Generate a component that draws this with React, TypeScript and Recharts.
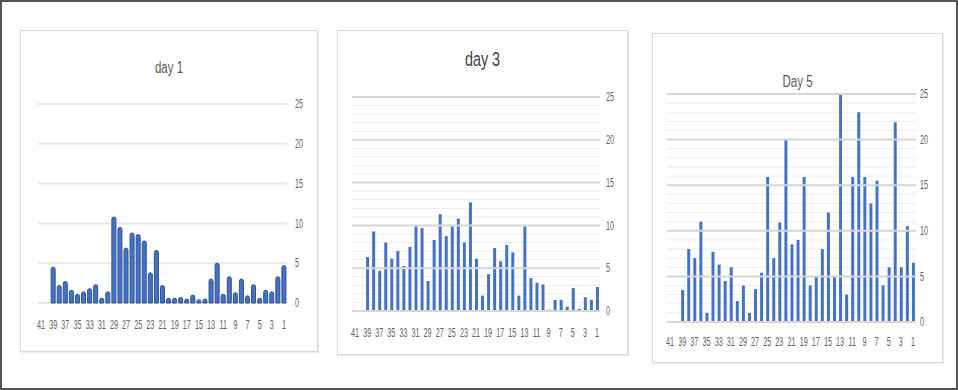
import React from 'react';
import { BarChart, Bar, XAxis, YAxis, CartesianGrid, ReferenceLine } from 'recharts';

const categories: string[] = [
  '41','40','39','38','37','36','35','34','33','32','31','30','29','28','27','26','25','24','23','22','21',
  '20','19','18','17','16','15','14','13','12','11','10','9','8','7','6','5','4','3','2','1',
];

const day1Values: (number | null)[] = [
  null, null, 4.5, 2.2, 2.7, 1.6, 1.1, 1.4, 1.8, 2.3, 0.6, 1.4, 10.8, 9.5, 6.9, 8.8, 8.6, 7.8, 3.8, 6.6, 2.2,
  0.6, 0.6, 0.7, 0.5, 1.0, 0.4, 0.5, 3.0, 5.0, 1.1, 3.3, 1.3, 3.0, 0.9, 2.3, 0.6, 1.6, 1.4, 3.3, 4.7,
];

const day3Values: (number | null)[] = [
  null, null, 6.3, 9.3, 4.7, 8.0, 6.1, 7.0, 5.25, 7.5, 9.9, 9.7, 3.5, 8.3, 11.3, 8.75, 9.9, 10.8, 8.0, 12.7, 6.1,
  1.8, 4.3, 7.35, 5.8, 7.7, 6.85, 1.8, 9.9, 3.85, 3.3, 3.1, 0.15, 1.3, 1.3, 0.5, 2.7, 0.25, 1.6, 1.3, 2.8,
];

const day5Values: (number | null)[] = [
  null, null, 3.5, 8.0, 7.0, 11.0, 1.0, 7.7, 6.3, 4.5, 6.0, 2.3, 4.0, 1.0, 3.6, 5.4, 15.9, 7.0, 10.9, 20.0, 8.5,
  9.0, 15.9, 4.0, 5.0, 8.0, 12.0, 5.0, 25.0, 3.0, 15.9, 23.0, 15.9, 13.0, 15.5, 4.0, 6.0, 21.9, 6.0, 10.5, 6.5,
];

const majorTicks: number[] = [0, 5, 10, 15, 20, 25];
const minorTicks: number[] = [
  0, 1, 2, 3, 4, 5, 6, 7, 8, 9, 10, 11, 12, 13, 14, 15, 16, 17, 18, 19, 20, 21, 22, 23, 24, 25,
];

const tickFont = "'Liberation Sans', Arial, sans-serif";

function XTick(props: any) {
  const { x, y, payload } = props;
  return (
    <g transform={`translate(${x},${y}) scale(0.6,1)`} opacity={0.99}>
      <text x={0} y={0} textAnchor="middle" dy="0.71em" fill="#606060" fontSize={12} fontFamily={tickFont}>
        {payload.value}
      </text>
    </g>
  );
}

function YTick(props: any) {
  const { x, y, payload } = props;
  const v = Number(payload.value);
  if (v % 5 !== 0) return null;
  return (
    <g transform={`translate(${x},${y}) scale(0.6,1)`} opacity={0.99}>
      <text x={0} y={0} textAnchor="start" dy="0.355em" fill="#606060" fontSize={12} fontFamily={tickFont}>
        {String(v)}
      </text>
    </g>
  );
}

type PanelProps = {
  title: string;
  values: (number | null)[];
  left: number;
  top: number;
  width: number;
  height: number;
  margin: { top: number; right: number; bottom: number; left: number };
  titleTop: number;
  titleSize: number;
  titleScale: number;
  titleColor: string;
  minor: boolean;
  barSize: number;
  outlined: boolean;
  xTickMargin: number;
  yTickMargin: number;
};

function Panel(p: PanelProps) {
  const data = categories.map((c, i) => ({ cat: c, v: p.values[i] }));
  return (
    <div
      style={{
        position: 'absolute',
        left: p.left,
        top: p.top,
        width: p.width,
        height: p.height,
        boxSizing: 'border-box',
        border: '1px solid #d9d9d9',
        boxShadow: '1px 1px 1px rgba(0,0,0,0.08)',
        background: '#fff',
      }}
    >
      <div
        style={{
          position: 'absolute',
          left: 0,
          right: 0,
          top: p.titleTop,
          textAlign: 'center',
          fontFamily: "'Liberation Sans', Arial, sans-serif",
          fontSize: p.titleSize,
          color: p.titleColor,
          lineHeight: 1,
          transform: `scale(${p.titleScale},1)`,
          transformOrigin: '50% 50%',
        }}
      >
        {p.title}
      </div>
      <div style={{ position: 'absolute', left: -1, top: -1 }}>
        <BarChart width={p.width} height={p.height} data={data} margin={p.margin} barCategoryGap={0}>
          <CartesianGrid
            vertical={false}
            stroke={p.minor ? '#ececec' : '#e8e8e8'}
            strokeWidth={p.minor ? 1 : 2}
          />
          {p.minor &&
            majorTicks.map((t) => (
              <ReferenceLine key={t} y={t} stroke="#d6d6d6" strokeWidth={2} />
            ))}
          <XAxis
            dataKey="cat"
            interval={1}
            axisLine={false}
            tickLine={false}
            tickSize={0}
            tickMargin={p.xTickMargin}
            height={30}
            tick={<XTick />}
          />
          <YAxis
            orientation="right"
            domain={[0, 25]}
            ticks={p.minor ? minorTicks : majorTicks}
            axisLine={false}
            tickLine={false}
            tickSize={0}
            tickMargin={p.yTickMargin}
            width={20}
            interval={0}
            tick={<YTick />}
          />
          <Bar
            dataKey="v"
            fill="#4472c4"
            stroke={p.outlined ? '#2f528f' : 'none'}
            strokeWidth={p.outlined ? 1 : 0}
            barSize={p.barSize}
            radius={p.outlined ? [2, 2, 0, 0] : 0}
            isAnimationActive={false}
          />
        </BarChart>
      </div>
    </div>
  );
}

export default function App() {
  return (
    <div
      style={{
        position: 'absolute',
        left: 0,
        top: 0,
        width: 958,
        height: 390,
        boxSizing: 'border-box',
        border: '2px solid #555',
        background: '#fff',
      }}
    >
      <div style={{ position: 'absolute', left: -2, top: -2, width: 958, height: 390 }}>
        <Panel
          title="day 1"
          values={day1Values}
          left={20}
          top={30}
          width={298}
          height={322}
          margin={{ top: 74, right: 11, bottom: 19, left: 18 }}
          titleTop={29}
          titleSize={16}
          titleScale={0.72}
          titleColor="#595959"
          minor={false}
          barSize={4}
          outlined={true}
          xTickMargin={17}
          yTickMargin={8}
        />
        <Panel
          title="day 3"
          values={day3Values}
          left={337}
          top={30}
          width={291}
          height={325}
          margin={{ top: 67, right: 8, bottom: 14, left: 15 }}
          titleTop={18}
          titleSize={20}
          titleScale={0.72}
          titleColor="#404040"
          minor={true}
          barSize={3}
          outlined={false}
          xTickMargin={17}
          yTickMargin={6}
        />
        <Panel
          title="Day 5"
          values={day5Values}
          left={652}
          top={33}
          width={291}
          height={330}
          margin={{ top: 61, right: 7, bottom: 11, left: 15 }}
          titleTop={40}
          titleSize={16}
          titleScale={0.72}
          titleColor="#595959"
          minor={true}
          barSize={3}
          outlined={false}
          xTickMargin={15}
          yTickMargin={4}
        />
      </div>
    </div>
  );
}
